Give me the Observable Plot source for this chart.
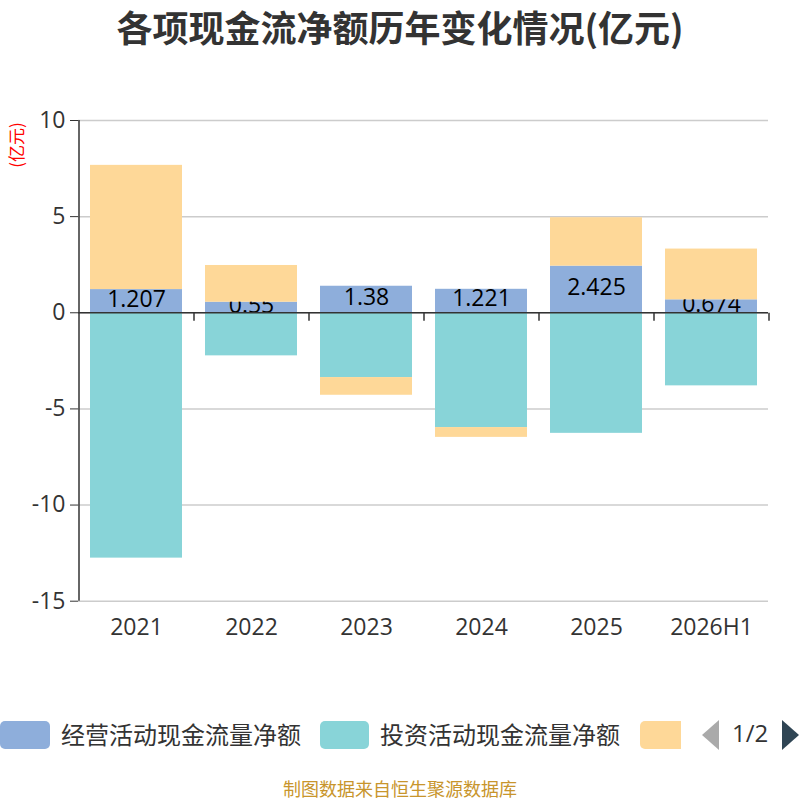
<!DOCTYPE html>
<html><head><meta charset="utf-8">
<script src="https://cdn.jsdelivr.net/npm/d3@7"></script>
<script src="https://cdn.jsdelivr.net/npm/@observablehq/plot@0.6"></script>
<style>
body{margin:0;background:#fff;font-family:"Noto Sans CJK SC","Noto Sans",sans-serif;}
#wrap{position:relative;width:800px;height:800px;overflow:hidden;background:#fff;}
#title{position:absolute;top:0;left:0;width:800px;height:54px;text-align:center;font-size:36px;font-weight:bold;color:#333;line-height:52px;}
#chart{position:absolute;top:0;left:0;}
#unit{position:absolute;left:-14px;top:133px;width:60px;text-align:center;font-size:17px;line-height:24px;color:#f00;transform:rotate(-90deg);}
.sw{position:absolute;top:721px;height:28px;border-radius:5px;}
.lt{position:absolute;top:717px;font-size:24px;color:#333;line-height:34px;white-space:nowrap;}
#caption{position:absolute;top:777px;left:0;width:800px;text-align:center;font-size:18px;color:#c8952c;line-height:22px;}
</style></head><body><div id="wrap">
<div id="title">各项现金流净额历年变化情况(亿元)</div>
<div id="chart"></div>
<div id="unit">(亿元)</div>
<div id="legend"></div>
<div id="caption">制图数据来自恒生聚源数据库</div>
</div>
<script>
const years = ["2021","2022","2023","2024","2025","2026H1"];
const operating = [1.207, 0.55, 1.38, 1.221, 2.425, 0.674];
const investing = [-12.76, -2.24, -3.37, -5.97, -6.27, -3.80];
const financing = [6.46, 1.91, -0.92, -0.51, 2.52, 2.64];
const yTicks = [-15, -10, -5, 0, 5, 10];
const seriesNames = ["经营活动现金流量净额", "投资活动现金流量净额", "筹资活动现金流量净额"];
const colors = ["#8eaedb", "#88d4d8", "#fed898"];

const opRows = years.map((y, i) => ({year: y, y1: 0, y2: operating[i], v: operating[i]}));
const invRows = years.map((y, i) => ({year: y, y1: 0, y2: investing[i]}));
const finRows = years.map((y, i) => {
  const base = financing[i] >= 0 ? operating[i] : investing[i];
  return {year: y, y1: base, y2: base + financing[i]};
});

const tickSymbol = {draw(ctx) { ctx.moveTo(0, 0); ctx.lineTo(0, 8); }};
const numFont = "'Open Sans','Noto Sans CJK SC',sans-serif";

const chart = Plot.plot({
  width: 800,
  height: 660,
  marginTop: 120,
  marginBottom: 59.3,
  marginLeft: 78,
  marginRight: 32,
  style: {fontFamily: numFont, background: "transparent"},
  x: {domain: years, paddingInner: 0.2, paddingOuter: 0.1, label: null},
  y: {domain: [-15, 10], label: null},
  marks: [
    Plot.gridY(yTicks, {stroke: "#ccc", strokeOpacity: 1, strokeWidth: 1.5}),
    Plot.barY(opRows, {x: "year", y1: "y1", y2: "y2", fill: colors[0]}),
    Plot.text(opRows, {x: "year", y: d => d.v / 2, text: d => String(d.v), fontSize: 23, fill: "#000", dy: -2}),
    Plot.barY(invRows, {x: "year", y1: "y1", y2: "y2", fill: colors[1]}),
    Plot.barY(finRows, {x: "year", y1: "y1", y2: "y2", fill: colors[2]}),
    Plot.ruleY([0], {stroke: "#333", strokeWidth: 1.5}),
    Plot.dot(years, {x: d => d, y: 0, symbol: tickSymbol, dx: 57.5, stroke: "#333", fill: "none", strokeWidth: 1.5}),
    Plot.ruleX([years[0]], {dx: -57.5, y1: -15, y2: 10, stroke: "#333", strokeWidth: 1.5}),
    Plot.axisY({ticks: yTicks, tickSize: 8, tickPadding: 5, fontSize: 23, fill: "#333", stroke: "#333", tickFormat: d => String(d), label: null}),
    Plot.axisX({tickSize: 0, tickPadding: 17, fontSize: 23, fill: "#333", label: null})
  ]
});
document.getElementById("chart").appendChild(chart);

// legend (paginated, page 1 of 2)
const legend = document.getElementById("legend");
const swX = [0, 320, 640];
const swW = [50, 49, 41];
const txX = [61, 380];
seriesNames.forEach((name, i) => {
  const s = document.createElement("div");
  s.className = "sw";
  s.style.left = swX[i] + "px";
  s.style.width = swW[i] + "px";
  s.style.background = colors[i];
  if (i === 2) s.style.borderRadius = "5px 0 0 5px";
  legend.appendChild(s);
  if (i < 2) {
    const t = document.createElement("div");
    t.className = "lt";
    t.style.left = txX[i] + "px";
    t.textContent = name;
    legend.appendChild(t);
  }
});
const pager = document.createElement("div");
pager.innerHTML = `
<svg style="position:absolute;left:700px;top:719px" width="100" height="32">
  <polygon points="19,1 19,31 2,16" fill="#aaa"/>
  <polygon points="82,1 82,31 99,16" fill="#2f4554"/>
</svg>
<div style="position:absolute;left:732px;top:716px;font-size:24px;color:#333;line-height:34px;font-family:'Open Sans',sans-serif;">1/2</div>`;
legend.appendChild(pager);
</script>
</body></html>
